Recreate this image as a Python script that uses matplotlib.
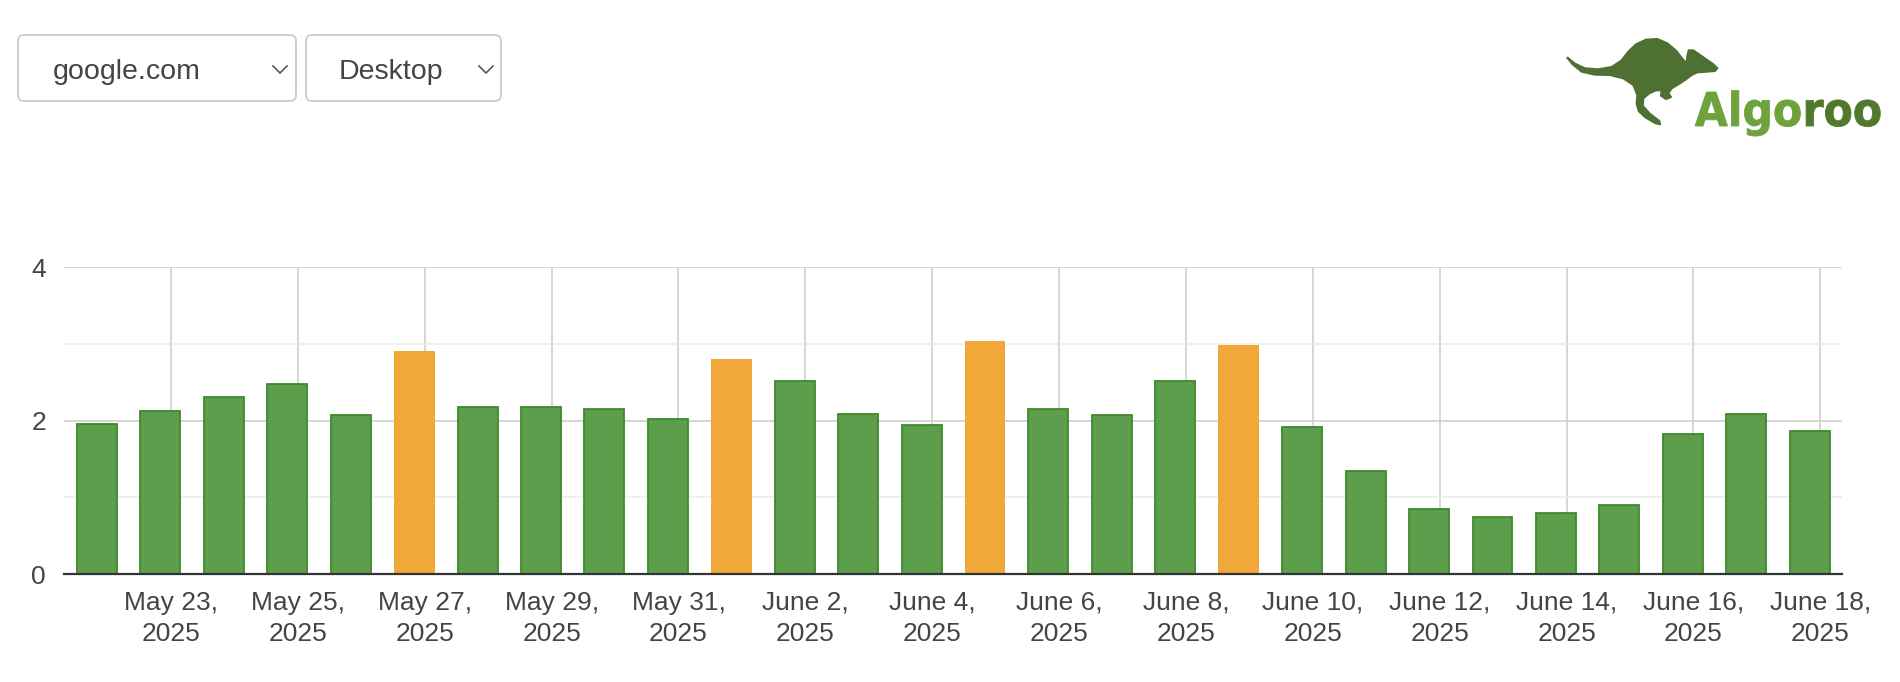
import matplotlib.pyplot as plt
import numpy as np
import pandas as pd
from matplotlib.patches import FancyBboxPatch, Polygon, PathPatch
from matplotlib.textpath import TextPath
from matplotlib.font_manager import FontProperties
from matplotlib.transforms import Affine2D

plt.rcParams['font.family'] = ['Liberation Sans', 'DejaVu Sans']

# data
dates = pd.date_range('2025-05-22', '2025-06-18', freq='D')
values = [1.96, 2.12, 2.30, 2.48, 2.07, 2.90, 2.17, 2.17, 2.15, 2.02,
          2.80, 2.51, 2.09, 1.94, 3.03, 2.15, 2.07, 2.51, 2.98, 1.91,
          1.34, 0.85, 0.74, 0.79, 0.90, 1.83, 2.09, 1.86]
highlight = ['2025-05-27', '2025-06-01', '2025-06-05', '2025-06-09']
site = 'google.com'
device = 'Desktop'
y_ticks = [0, 2, 4]

green, green_edge, orange = '#5c9e4b', '#3d8a2b', '#f0a83b'
text_col = '#444444'

fig = plt.figure(figsize=(19, 6.82), dpi=100)
ax = fig.add_axes([64 / 1900, 1 - 574 / 682, (1842 - 64) / 1900, (574 - 267) / 682])

x = np.arange(len(dates))
hl = set(pd.to_datetime(highlight))
for xi, d, v in zip(x, dates, values):
    if d in hl:
        ax.bar(xi, v, width=0.645, color=orange, linewidth=0, zorder=3)
    else:
        ax.bar(xi, v, width=0.63, color=green, edgecolor=green_edge,
               linewidth=1.3, zorder=3)

# gridlines sit ~4h after midnight of every other day
tick_pos = x[1::2] + 0.167
tick_lab = [f"{d.strftime('%B')} {d.day},\n{d.year}" for d in dates[1::2]]
ax.set_xticks(tick_pos)
ax.set_xticklabels(tick_lab, fontsize=19, color=text_col, linespacing=1.4)
ax.set_yticks(y_ticks)
ax.set_yticklabels([str(t) for t in y_ticks], fontsize=19, color=text_col)
ax.set_yticks([1, 3], minor=True)
ax.tick_params(axis='both', which='both', length=0)
ax.tick_params(axis='x', pad=12)
ax.tick_params(axis='y', pad=13)

ax.set_xlim(-0.52, 27.51)
ax.set_ylim(0, 4)
ax.grid(True, which='major', color='#cccccc', linewidth=1.1)
ax.grid(True, which='minor', axis='y', color='#ebebeb', linewidth=1.1)
ax.set_axisbelow(True)
for s in ['top', 'right', 'left']:
    ax.spines[s].set_visible(False)
ax.spines['bottom'].set_color('#333333')
ax.spines['bottom'].set_linewidth(1.6)
ax.spines['bottom'].set_zorder(4)

# header widgets drawn in pixel space
ov = fig.add_axes([0, 0, 1, 1], zorder=-1)
ov.set_xlim(0, 1900)
ov.set_ylim(682, 0)
ov.axis('off')

for bx, bw, label, tx, cx in [(18, 278, site, 53, 280), (306, 195, device, 339, 486)]:
    ov.add_patch(FancyBboxPatch((bx, 35), bw, 66, boxstyle='round,pad=0,rounding_size=6',
                                fc='white', ec='#cccccc', lw=1.3))
    ov.text(tx, 72, label, fontsize=20.5, color=text_col, va='center', ha='left')
    ov.plot([cx - 7, cx, cx + 7], [66, 73, 66], color='#555555', lw=1.2)

# logo: kangaroo silhouette (traced at 3x around 1560,35) + wordmark
roo = [(22, 68), (45, 86), (75, 100), (115, 103), (155, 96), (185, 76), (205, 50),
       (228, 28), (258, 14), (292, 12), (322, 25), (348, 47), (368, 72), (380, 86),
       (382, 64), (386, 46), (400, 46), (420, 60), (440, 74), (460, 88), (472, 100),
       (465, 108), (440, 110), (412, 112), (395, 120), (375, 135), (352, 150),
       (335, 160), (325, 175), (333, 186), (318, 192), (303, 182), (305, 166),
       (288, 166), (268, 175), (250, 190), (248, 212), (268, 235), (298, 258),
       (300, 268), (285, 264), (255, 246), (236, 228), (230, 205), (232, 180),
       (220, 150), (190, 130), (150, 120), (105, 119), (65, 110), (38, 88)]
roo = [(1560 + px / 3, 35 + py / 3) for px, py in roo]
ov.add_patch(Polygon(roo, closed=True, fc='#4f7033', ec='#4f7033', lw=1.5,
                     joinstyle='round'))

fp = FontProperties(family='DejaVu Sans', weight='bold')
ext = TextPath((0, 0), 'Algoroo', size=1, prop=fp).get_extents()
cap = TextPath((0, 0), 'A', size=1, prop=fp).get_extents().y1
sx = (1880 - 1695) / ext.width
sy = (126 - 92) / cap
algo_end = TextPath((0, 0), 'Algo', size=1, prop=fp).get_extents().x1 + 0.05
tr = Affine2D().translate(-ext.x0, 0).scale(sx, -sy).translate(1695, 126)
for word, col, off in [('Algo', '#6ea23c', 0.0), ('roo', '#52782e', algo_end)]:
    tp = TextPath((off, 0), word, size=1, prop=fp)
    ov.add_patch(PathPatch(tr.transform_path(tp), fc=col, ec=col, lw=0.6))

fig.savefig('out.png', dpi=100, facecolor='white')
